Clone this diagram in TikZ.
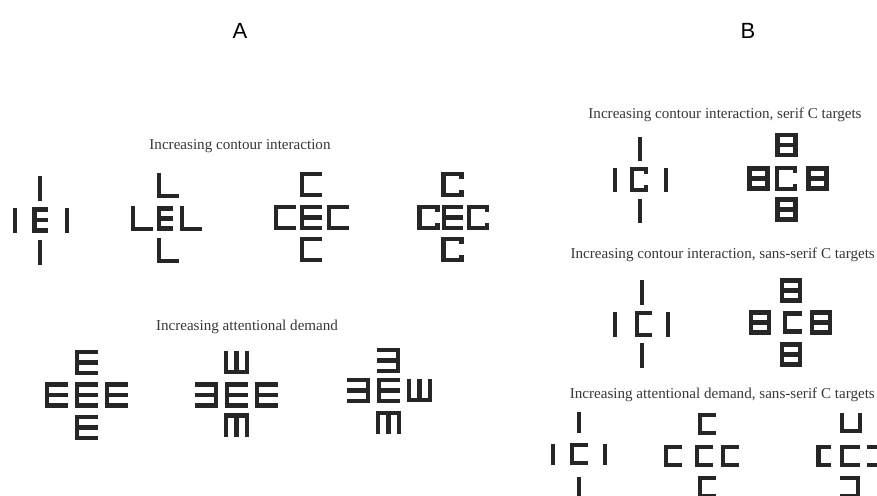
\documentclass[tikz,border=0pt]{standalone}
\usepackage{fontspec}
\setmainfont{Liberation Serif}
\newfontfamily\panelfont{Liberation Sans}
\begin{document}
\begin{tikzpicture}[x=1pt,y=-1pt,
  glyph/.style={draw=black!85,line width=4.4pt,line cap=butt,line join=miter},
  heading/.style={font=\fontsize{15.1}{17}\selectfont,text=black!78,inner sep=0pt},
  panel/.style={font=\panelfont\fontsize{22}{24}\selectfont,inner sep=0pt,anchor=base},
  pics/glI/.style n args={2}{code={
    \draw[glyph] (0,{-#2/2}) -- (0,{#2/2});}},
  pics/glL/.style n args={2}{code={
    \draw[glyph] ({-#1/2+2},{-#2/2}) -- ({-#1/2+2},{#2/2-2}) -- ({#1/2},{#2/2-2});}},
  pics/glC/.style n args={2}{code={
    \draw[glyph] ({#1/2},{-#2/2+2}) -- ({-#1/2+2},{-#2/2+2}) -- ({-#1/2+2},{#2/2-2}) -- ({#1/2},{#2/2-2});}},
  pics/glE/.style n args={2}{code={
    \draw[glyph] ({#1/2},{-#2/2+2}) -- ({-#1/2+2},{-#2/2+2}) -- ({-#1/2+2},{#2/2-2}) -- ({#1/2},{#2/2-2});
    \draw[glyph] ({-#1/2+2},0) -- ({#1/2},0);}},
  pics/glSC/.style n args={2}{code={
    \draw[glyph] ({#1/2-2},{-#2/2+7}) -- ({#1/2-2},{-#2/2+2}) -- ({-#1/2+2},{-#2/2+2}) -- ({-#1/2+2},{#2/2-2}) -- ({#1/2-2},{#2/2-2}) -- ({#1/2-2},{#2/2-7});}},
  pics/glB/.style n args={2}{code={
    \draw[glyph] ({-#1/2+2},{-#2/2+2}) rectangle ({#1/2-2},{#2/2-2});
    \draw[glyph] ({-#1/2+2},0) -- ({#1/2-2},0);}}]
\useasboundingbox (0,0) rectangle (877,495);
\clip (0,0) rectangle (877,495);
\fill[white] (0,0) rectangle (877,495);

\node[panel] (lblA) at (240,38) {A};
\node[panel] (lblB) at (748,38) {B};

\node[heading] (hA1) at (240,146) {Increasing contour interaction};
\node[heading] (hA2) at (247,327) {Increasing attentional demand};
\node[heading] (hB1) at (725,115) {Increasing contour interaction, serif C targets};
\node[heading,anchor=east] (hB2) at (875,255) {Increasing contour interaction, sans-serif C targets};
\node[heading,anchor=east] (hB3) at (875,395) {Increasing attentional demand, sans-serif C targets};

% A, contour interaction
\pic at (40,220) {glE={15}{25}};
\foreach \x/\y in {15/220,67/220,40/188,40/252}
  \pic at (\x,\y) {glI={4}{25}};
\pic at (165,218.5) {glE={16}{24}};
\foreach \x/\y in {142/218.5,191/218.5,168/185.5,168/250.5}
  \pic at (\x,\y) {glL={22}{25}};
\pic at (311,217.5) {glE={22}{25}};
\foreach \x/\y in {285/217.5,338/217.5,311/184.5,311/249.5}
  \pic at (\x,\y) {glC={22}{25}};
\pic at (452.5,217.5) {glE={21}{25}};
\foreach \x/\y in {428.5/217.5,478/217.5,452.5/184.5,452.5/249.5}
  \pic[glyph/.append style={line width=4.8pt}] at (\x,\y) {glSC={22}{25}};

% A, attentional demand
\foreach \x/\y in {86.5/395,56.5/395,116.5/395,86.5/362.5,86.5/427.5}
  \pic at (\x,\y) {glE={23}{25}};
\foreach \x/\y/\r in {236.5/395/0,206.5/395/180,266.5/395/0,236.5/362.5/90,236.5/425/-90,
    388.5/390.5/0,388.5/360.5/180,358.5/390.5/180,419.5/390.5/90,388.5/422.5/-90}
  \pic[rotate=\r] at (\x,\y) {glE={23}{25}};

% B, serif C
\pic at (639,179.5) {glSC={18}{25}};
\foreach \x/\y in {615/179.5,666/179.5,640/148.5,640/210.5}
  \pic at (\x,\y) {glI={4}{24}};
\pic at (786,178.5) {glSC={22}{25}};
\foreach \x/\y in {786.5/145,758.5/178.5,817.5/178.5,786.5/209.5}
  \pic at (\x,\y) {glB={22}{24}};

% B, sans-serif C
\pic at (643.5,324) {glC={17}{26}};
\foreach \x/\y in {615/324,668/324,642/292.5,642/355.5}
  \pic at (\x,\y) {glI={4}{25}};
\pic at (792.5,322.5) {glC={19}{22}};
\foreach \x/\y in {791/290.5,760/322.5,821/322.5,791/354.5}
  \pic at (\x,\y) {glB={22}{24}};

% B, attentional demand
\pic at (579,454) {glC={18}{22}};
\foreach \x/\y in {553/454,605/454,579/422,579/487}
  \pic at (\x,\y) {glI={4}{21}};
\foreach \x/\y in {707/424,673/456,704/456,730/456,707/487}
  \pic at (\x,\y) {glC={18}{22}};
\foreach \x/\y/\w/\r in {851/423/20/90,823.5/456/14/0,850/456/20/0,876/456/18/180,850/487/20/180}
  \pic[rotate=\r] at (\x,\y) {glC={\w}{22}};
\end{tikzpicture}
\end{document}
